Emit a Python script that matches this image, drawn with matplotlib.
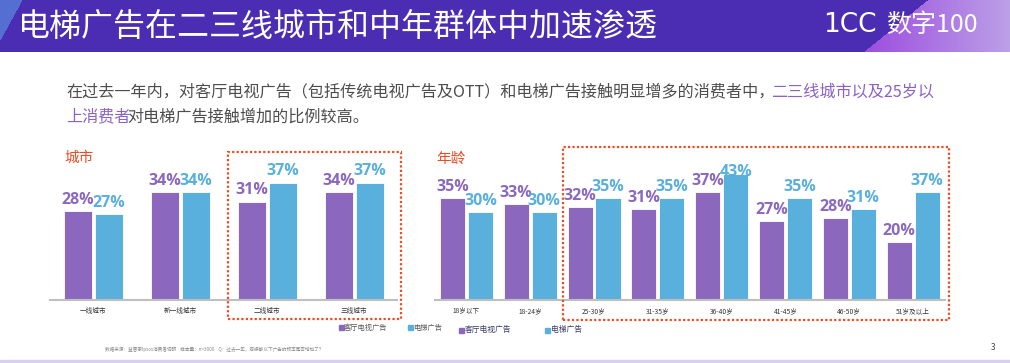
"""Elevator vs living-room TV ad exposure, by city tier and age group."""

import matplotlib
matplotlib.use("Agg")
import matplotlib.pyplot as plt
import matplotlib.patches as mpatches
import numpy as np

plt.rcParams["font.family"] = ["Noto Sans CJK SC", "DejaVu Sans"]

W, H = 1010, 363

# data
city_cats = ["一线城市", "新一线城市", "二线城市", "三线城市"]
city_tv = [28, 34, 31, 34]
city_elev = [27, 34, 37, 37]

age_cats = ["18岁以下", "18-24岁", "25-30岁", "31-35岁", "36-40岁", "41-45岁", "46-50岁", "51岁及以上"]
age_tv = [35, 33, 32, 31, 37, 27, 28, 20]
age_elev = [30, 30, 35, 35, 43, 35, 31, 37]

series_names = ["客厅电视广告", "电梯广告"]

title = "电梯广告在二三线城市和中年群体中加速渗透"
sub_line1 = [("在过去一年内，对客厅电视广告（包括传统电视广告及OTT）和电梯广告接触明显增多的消费者中，", "gray"),
             ("二三线城市以及25岁以", "hl")]
sub_line2 = [("上消费者", "hl"), ("对电梯广告接触增加的比例较高。", "gray")]
footnote = "数据来源：益普索Ipsos消费者调研    样本量：n=3000    Q：过去一年，您接触以下广告的频率是否增加了？"

PURPLE = "#8B68BE"
BLUE = "#5AB0DC"
RED = "#E84E25"
TEXT_GRAY = "#4D4D4D"
HL = "#8B62C6"


def fx(x):
    return x / W


def fy(y):
    return 1 - y / H


fig = plt.figure(figsize=(W / 100, H / 100), dpi=100)

# header band with gradients
hh = 52
hax = fig.add_axes([0, fy(hh), 1, hh / H])
xx, yy = np.meshgrid(np.arange(W), np.arange(hh))
img = np.zeros((hh, W, 3))
img[:] = np.array([74, 45, 178]) / 255
right = xx > (927 - yy / hh * 64)
t = np.clip((xx - 860) / 150, 0, 1)[..., None]
grad = (1 - t) * np.array([155, 75, 222]) / 255 + t * np.array([188, 160, 232]) / 255
img = np.where(right[..., None], grad, img)
left = xx < (22 - yy * 0.55)
img = np.where(left[..., None], np.array([85, 110, 210]) / 255, img)
hax.imshow(img, aspect="auto", extent=(0, W, hh, 0))
hax.set_axis_off()

fig.text(fx(18), fy(27.5), title, color="white", fontsize=23, va="center", ha="left")
fig.text(fx(823), fy(25), "1CC", color="white", fontsize=19, va="center", ha="left",
         family=["DejaVu Sans"])
fig.text(fx(886), fy(25), "数字100", color="white", fontsize=18, va="center", ha="left",
         fontstyle="italic")

# subtitle with coloured runs
renderer = fig.canvas.get_renderer()


def put_runs(x, y, runs):
    for s, kind in runs:
        txt = fig.text(fx(x), fy(y), s, fontsize=11.6, va="center", ha="left",
                       color=HL if kind == "hl" else TEXT_GRAY)
        bb = txt.get_window_extent(renderer)
        x = bb.x1 - 3


put_runs(66, 92, sub_line1)
put_runs(66, 117, sub_line2)


def bar_panel(rect, cats, tv, elev, ymax, width, off, label_cap=None):
    ax = fig.add_axes(rect)
    x = np.arange(len(cats))
    ax.bar(x - off, tv, width, color=PURPLE, edgecolor="white", linewidth=0.6)
    ax.bar(x + off, elev, width, color=BLUE, edgecolor="white", linewidth=0.6)
    for xs, vals, c in ((x - off, tv, PURPLE), (x + off, elev, BLUE)):
        for xi, v in zip(xs, vals):
            yl = v + 2.4 if label_cap is None else min(v + 2.4, label_cap)
            ax.text(xi, yl, f"{v}%", color=c, fontsize=11.5, fontweight="bold",
                    family=["Open Sans", "DejaVu Sans"], ha="center", va="baseline")
    ax.set_xlim(-0.5, len(cats) - 0.5)
    ax.set_ylim(0, ymax)
    ax.set_xticks(x)
    ax.set_xticklabels(cats, fontsize=4.8, color="#333333")
    ax.tick_params(axis="x", length=0, pad=5)
    ax.set_yticks([])
    for s in ("top", "left", "right"):
        ax.spines[s].set_visible(False)
    ax.spines["bottom"].set_color("#BFBFBF")
    ax.spines["bottom"].set_linewidth(1.5)
    ax.patch.set_alpha(0)
    return ax


# city panel: baseline y=300, 3.17 px per %
bar_panel([fx(50), fy(300), (397.5 - 50) / W, 150 / H], city_cats, city_tv, city_elev,
          150 / 3.17, 0.322, 0.178)
# age panel: 2.92 px per %
bar_panel([fx(434.5), fy(300), (945 - 434.5) / W, 150 / H], age_cats, age_tv, age_elev,
          150 / 2.92, 0.392, 0.219, label_cap=42.3)

fig.text(fx(64), fy(158), "城市", color=RED, fontsize=10.5, va="center", ha="left")
fig.text(fx(436), fy(159), "年龄", color=RED, fontsize=10.5, va="center", ha="left")

# dotted highlight boxes
for x0, y0, x1, y1 in ((228, 151.7, 401, 319), (562.7, 147, 949.3, 320)):
    fig.patches.append(mpatches.Rectangle((fx(x0), fy(y1)), fx(x1 - x0), (y1 - y0) / H,
                                          transform=fig.transFigure, fill=False,
                                          edgecolor=RED, linestyle=(0, (1, 1)), linewidth=1.6))

# legends (left one small grey, right one a bit larger and navy)
legend_specs = [
    (339, 344, 408, 413, 327.5, 5.2, "#595959"),
    (459, 465, 545, 551, 330, 5.6, "#3B3B6B"),
]
for s1, t1, s2, t2, yc, fs, tc in legend_specs:
    for sx, tx, name, c in ((s1, t1, series_names[0], PURPLE), (s2, t2, series_names[1], BLUE)):
        fig.patches.append(mpatches.Rectangle((fx(sx), fy(yc + 2.5)), fx(5), 5 / H,
                                              transform=fig.transFigure, color=c))
        fig.text(fx(tx), fy(yc), name, color=tc, fontsize=fs, va="center", ha="left")

fig.text(fx(105), fy(349), footnote, color="#888888", fontsize=3.3, va="center", ha="left")
fig.text(fx(993), fy(347), "3", color="#444444", fontsize=6, va="center", ha="center")

fig.patches.append(mpatches.Rectangle((0, 0), 1, 3 / H, transform=fig.transFigure,
                                      color="#D8D0EE"))

fig.savefig("out.png", dpi=100)
plt.close(fig)
